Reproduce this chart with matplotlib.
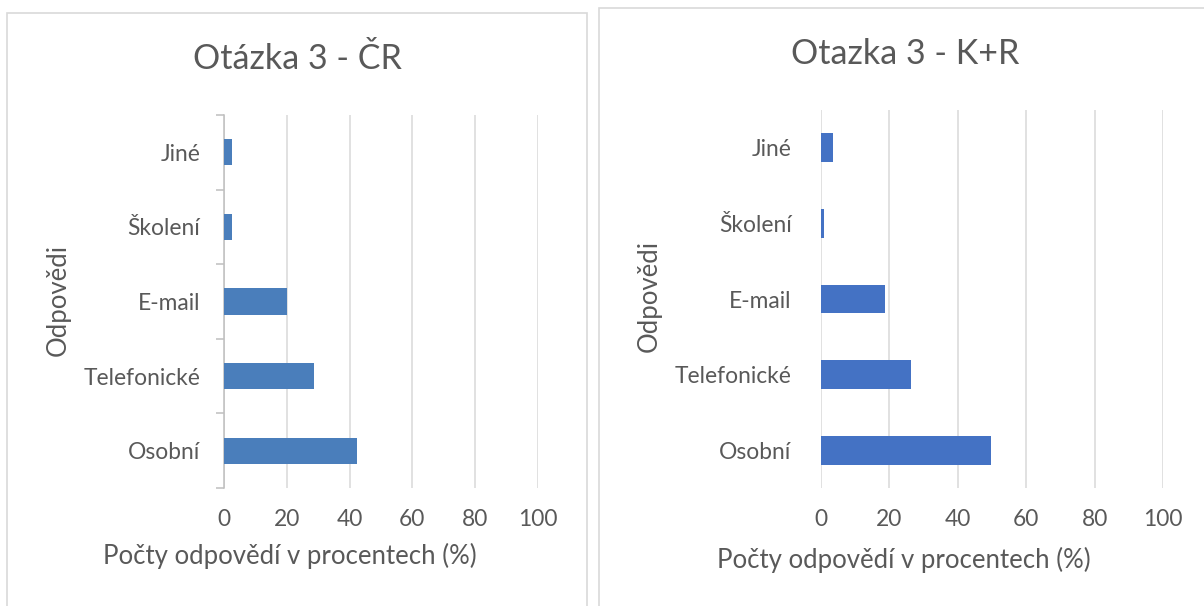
import matplotlib.pyplot as plt
from matplotlib.patches import Rectangle

plt.rcParams["font.family"] = ["Lato", "DejaVu Sans"]

# data
kategorie = ["Osobní", "Telefonické", "E-mail", "Školení", "Jiné"]
cr_hodnoty = [42.5, 28.7, 20.2, 2.5, 2.6]
kr_hodnoty = [49.7, 26.4, 18.7, 1.0, 3.5]
x_ticks = [0, 20, 40, 60, 80, 100]

tituly = ["Otázka 3 - ČR", "Otazka 3 - K+R"]
x_popis = "Počty odpovědí v procentech (%)"
y_popis = "Odpovědi"

SEDA = "#595959"
W, H = 1204, 606

fig = plt.figure(figsize=(W / 100, H / 100), dpi=100)
fig.patch.set_facecolor("white")


def px(x0, y0, x1, y1):
	"""pixelovy obdelnik -> zlomky figury"""
	return [x0 / W, (H - y1) / H, (x1 - x0) / W, (y1 - y0) / H]


# ramecky grafu (spodni hrana mimo obrazek)
for x0, y0, x1 in [(7, 13, 587), (599, 8, 1210)]:
	fig.patches.append(Rectangle((x0 / W, -0.02), (x1 - x0) / W, (H - y0) / H + 0.02,
								 transform=fig.transFigure, fill=False,
								 edgecolor="#d9d9d9", linewidth=1.2))


def graf(rect, hodnoty, barva, vyska, osa, lab_pad, ylab_xy, xlab_xy):
	ax = fig.add_axes(rect)
	poz = list(range(len(kategorie)))
	ax.barh(poz, hodnoty, height=vyska, color=barva, zorder=3)
	ax.set_xlim(0, 100)
	ax.set_ylim(-0.5, len(kategorie) - 0.5)
	ax.set_xticks(x_ticks)
	ax.set_yticks(poz)
	ax.set_yticklabels(kategorie)
	ax.grid(axis="x", color="#d9d9d9", linewidth=1.1, zorder=0)
	for s in ["top", "right", "bottom"]:
		ax.spines[s].set_visible(False)
	if osa:
		ax.spines["left"].set_color("#bfbfbf")
		ax.spines["left"].set_linewidth(1.1)
		ax.set_yticks([p - 0.5 for p in range(len(kategorie) + 1)], minor=True)
		ax.tick_params(axis="y", which="minor", length=6, color="#bfbfbf", width=1.1)
	else:
		ax.spines["left"].set_visible(False)
	ax.tick_params(axis="y", which="major", length=0, pad=lab_pad, labelsize=16.4, labelcolor=SEDA)
	ax.tick_params(axis="x", length=0, pad=15, labelsize=16.4, labelcolor=SEDA)
	ax.set_ylabel(y_popis, fontsize=18.5, color=SEDA)
	ax.yaxis.set_label_coords(*ylab_xy)
	ax.set_xlabel(x_popis, fontsize=18.5, color=SEDA)
	ax.xaxis.set_label_coords(*xlab_xy)
	return ax


graf(px(224, 115, 538, 488), cr_hodnoty, "#4a7ebb", 0.35, True, 17,
	 (-0.487, 0.504), (0.209, -0.147))
graf(px(820.7, 110, 1163.3, 488), kr_hodnoty, "#4472c4", 0.38, False, 21,
	 (-0.463, 0.508), (0.242, -0.156))

fig.text(297 / W, 1 - 59 / H, tituly[0], ha="center", va="center", fontsize=24.5, color=SEDA)
fig.text(905 / W, 1 - 54 / H, tituly[1], ha="center", va="center", fontsize=24.5, color=SEDA)

fig.savefig("out.png", dpi=100)
